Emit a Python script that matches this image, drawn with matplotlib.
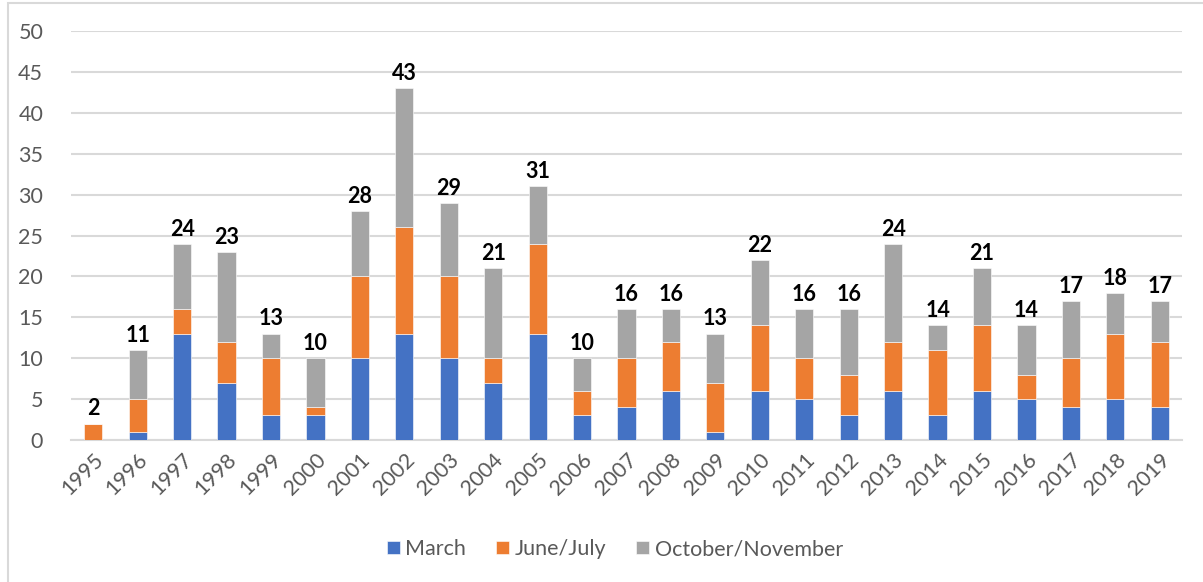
import numpy as np
import matplotlib.pyplot as plt
from matplotlib.patches import Rectangle

plt.rcParams['font.family'] = ['Lato', 'DejaVu Sans']

# counts per year
years = [str(y) for y in range(1995, 2020)]
march = [0, 1, 13, 7, 3, 3, 10, 13, 10, 7, 13, 3, 4, 6, 1, 6, 5, 3, 6, 3, 6, 5, 4, 5, 4]
june_july = [2, 4, 3, 5, 7, 1, 10, 13, 10, 3, 11, 3, 6, 6, 6, 8, 5, 5, 6, 8, 8, 3, 6, 8, 8]
oct_nov = [0, 6, 8, 11, 3, 6, 8, 17, 9, 11, 7, 4, 6, 4, 6, 8, 6, 8, 12, 3, 7, 6, 7, 5, 5]

blue = '#4472C4'
orange = '#ED7D31'
grey = '#A5A5A5'
text_col = '#595959'
grid_col = '#D9D9D9'
fs = 15.5

march = np.array(march)
june_july = np.array(june_july)
oct_nov = np.array(oct_nov)
totals = march + june_july + oct_nov

fig = plt.figure(figsize=(12.03, 5.82), dpi=100)
# outer chart border (Excel-style frame, cut off at right and bottom)
fig.patches.append(Rectangle((8 / 1203, -0.1), 1.2, 1.1 - 3 / 582,
                             transform=fig.transFigure, fill=False,
                             edgecolor=grid_col, linewidth=1.5))

ax = fig.add_axes([71 / 1203, 142 / 582, 1111 / 1203, 409 / 582])
x = np.arange(len(years))
w = 0.41
ax.bar(x, march, w, color=blue, label='March', edgecolor='white', linewidth=0.4, zorder=3)
ax.bar(x, june_july, w, bottom=march, color=orange, label='June/July',
       edgecolor='white', linewidth=0.4, zorder=3)
ax.bar(x, oct_nov, w, bottom=march + june_july, color=grey,
       label='October/November', edgecolor='white', linewidth=0.4, zorder=3)

for xi, t in zip(x, totals):
    ax.annotate(str(t), (xi, t), xytext=(0, 3), textcoords='offset points',
                ha='center', va='bottom', fontsize=fs, fontweight='bold',
                color='black')

ax.set_xlim(-0.5, len(years) - 0.5)
ax.set_ylim(0, 50)
ax.set_yticks(range(0, 51, 5))
ax.set_xticks(x)
ax.set_xticklabels(years, rotation=45, ha='right', rotation_mode='anchor')
ax.tick_params(axis='both', length=0, labelsize=fs, labelcolor=text_col)
ax.tick_params(axis='x', pad=7)
ax.tick_params(axis='y', pad=20)
ax.yaxis.grid(True, color=grid_col, linewidth=1.5, zorder=0)
for s in ['top', 'right', 'left']:
    ax.spines[s].set_visible(False)
ax.spines['bottom'].set_color(grid_col)
ax.spines['bottom'].set_linewidth(1.5)

fig.legend(loc='center', bbox_to_anchor=(615 / 1203, 1 - 549 / 582), ncol=3,
           frameon=False, fontsize=fs, labelcolor=text_col,
           handlelength=0.6, handleheight=0.6, handletextpad=0.25,
           columnspacing=1.4)

fig.savefig('out.png', dpi=100)
